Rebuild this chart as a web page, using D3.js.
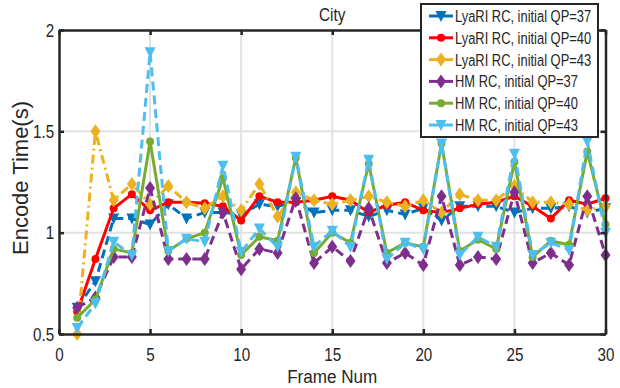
<!DOCTYPE html>
<html>
<head>
<meta charset="utf-8">
<script src="https://cdn.jsdelivr.net/npm/d3@7"></script>
<style>
  body { margin: 0; background: #fff; }
  svg text { font-family: "Liberation Sans", Arial, sans-serif; fill: #262626; }
</style>
</head>
<body>
<div id="chart"></div>
<script>
const frames = d3.range(1, 31);

const lyari37 = [0.63, 0.76, 1.07, 1.07, 1.04, 1.14, 1.07, 1.10, 1.10, 1.09, 1.14, 1.13, 1.15, 1.10, 1.11, 1.11, 1.08, 1.11, 1.09, 1.12, 1.06, 1.13, 1.13, 1.13, 1.10, 1.12, 1.12, 1.13, 1.10, 1.12];
const lyari40 = [0.61, 0.87, 1.12, 1.19, 1.11, 1.15, 1.15, 1.145, 1.13, 1.06, 1.18, 1.15, 1.15, 1.16, 1.18, 1.16, 1.10, 1.135, 1.15, 1.11, 1.10, 1.12, 1.14, 1.15, 1.18, 1.13, 1.07, 1.16, 1.14, 1.17];
const lyari43 = [0.50, 1.50, 1.16, 1.24, 1.14, 1.23, 1.15, 1.12, 1.18, 1.11, 1.24, 1.08, 1.20, 1.16, 1.14, 1.16, 1.18, 1.15, 1.13, 1.16, 1.10, 1.19, 1.16, 1.16, 1.23, 1.15, 1.15, 1.14, 1.11, 1.13];
const hm37 = [0.63, 0.68, 0.88, 0.88, 1.22, 0.87, 0.87, 0.87, 1.10, 0.82, 0.92, 0.90, 1.17, 0.85, 0.93, 0.86, 1.12, 0.85, 0.90, 0.84, 1.18, 0.84, 0.88, 0.87, 1.20, 0.85, 0.90, 0.84, 1.18, 0.89];
const hm40 = [0.58, 0.67, 0.92, 0.90, 1.45, 0.91, 0.97, 1.00, 1.27, 0.89, 0.98, 0.96, 1.37, 0.90, 1.00, 0.95, 1.34, 0.90, 0.95, 0.93, 1.44, 0.91, 0.965, 0.92, 1.35, 0.88, 0.96, 0.94, 1.40, 1.04];
const hm43 = [0.53, 0.65, 0.955, 0.89, 1.89, 0.91, 0.97, 0.955, 1.33, 0.905, 1.02, 0.93, 1.375, 0.93, 1.01, 0.93, 1.36, 0.87, 0.95, 0.92, 1.44, 0.89, 0.98, 0.93, 1.39, 0.89, 0.95, 0.915, 1.45, 1.00];

const seriesNames = ["LyaRI RC, initial QP=37", "LyaRI RC, initial QP=40", "LyaRI RC, initial QP=43",
                     "HM RC, initial QP=37", "HM RC, initial QP=40", "HM RC, initial QP=43"];
const seriesValues = [lyari37, lyari40, lyari43, hm37, hm40, hm43];
const seriesColors = ["#0072BD", "#FF0000", "#EDB120", "#7E2F8E", "#77AC30", "#4DBEEE"];
const seriesDash = ["9,5", null, "9,4,2,4", "9,5", null, "9,5"];
const seriesMarker = ["tri", "circle", "diamond", "diamond", "circle", "tri"];

const xTicks = [0, 5, 10, 15, 20, 25, 30];
const yTicks = [0.5, 1, 1.5, 2];

const width = 620, height = 388;
const svg = d3.select("#chart").append("svg").attr("width", width).attr("height", height);

const x = d3.scaleLinear().domain([0, 30]).range([59, 605.5]);
const y = d3.scaleLinear().domain([0.5, 2]).range([334, 30]);

// the reference uses a condensed face, so squeeze horizontal text
function squeezedText(parent, px, py, str, size, sx, anchor) {
    return parent.append("text")
        .attr("transform", "translate(" + px + "," + py + ") scale(" + sx + ",1)")
        .attr("text-anchor", anchor || "start")
        .style("font-size", size + "px")
        .text(str);
}

// grid
svg.append("g").selectAll("line").data(xTicks.slice(1, -1)).join("line")
    .attr("x1", d => x(d)).attr("x2", d => x(d)).attr("y1", y(0.5)).attr("y2", y(2))
    .attr("stroke", "#e2e2e2").attr("stroke-width", 2);
svg.append("g").selectAll("line").data(yTicks.slice(1, -1)).join("line")
    .attr("x1", x(0)).attr("x2", x(30)).attr("y1", d => y(d)).attr("y2", d => y(d))
    .attr("stroke", "#e2e2e2").attr("stroke-width", 2);

function markerPath(type) {
    if (type === "tri") return "M-5.5,-5L5.5,-5L0,6Z";
    if (type === "diamond") return "M0,-7L5,0L0,7L-5,0Z";
    return d3.symbol(d3.symbolCircle, 50)();
}

const line = d3.line().x((d, i) => x(frames[i])).y(d => y(d));

seriesValues.forEach((vals, s) => {
    const g = svg.append("g");
    g.append("path")
        .datum(vals)
        .attr("d", line)
        .attr("fill", "none")
        .attr("stroke", seriesColors[s])
        .attr("stroke-width", 3)
        .attr("stroke-dasharray", seriesDash[s]);
    g.selectAll("path.m").data(vals).join("path")
        .attr("class", "m")
        .attr("transform", (d, i) => "translate(" + x(frames[i]) + "," + y(d) + ")")
        .attr("d", markerPath(seriesMarker[s]))
        .attr("fill", seriesColors[s]);
});

// axes (box with inward ticks)
const axisColor = "#262626";
const axBottom = svg.append("g").attr("transform", "translate(0," + y(0.5) + ")")
    .call(d3.axisBottom(x).tickValues(xTicks).tickSizeInner(-5).tickSizeOuter(0).tickPadding(14));
const axLeft = svg.append("g").attr("transform", "translate(" + x(0) + ",0)")
    .call(d3.axisLeft(y).tickValues(yTicks).tickFormat(d3.format("")).tickSizeInner(-5).tickSizeOuter(0).tickPadding(6));
const axTop = svg.append("g").attr("transform", "translate(0," + y(2) + ")")
    .call(d3.axisTop(x).tickValues(xTicks).tickSizeInner(-5).tickSizeOuter(0).tickFormat(""));
const axRight = svg.append("g").attr("transform", "translate(" + x(30) + ",0)")
    .call(d3.axisRight(y).tickValues(yTicks).tickSizeInner(-5).tickSizeOuter(0).tickFormat(""));
[axBottom, axLeft, axTop, axRight].forEach(a => {
    a.selectAll("path, line").attr("stroke", axisColor).attr("stroke-width", 2.5);
    a.selectAll("text").style("font-size", "19px").attr("fill", axisColor)
        .attr("transform", "scale(0.8,1)");
});

// title and axis labels
squeezedText(svg, (x(0) + x(30)) / 2, 21, "City", 18, 0.85, "middle");
squeezedText(svg, (x(0) + x(30)) / 2, 383, "Frame Num", 19, 0.9, "middle");

svg.append("text")
    .attr("transform", "translate(28," + ((y(0.5) + y(2)) / 2 - 4) + ") rotate(-90)")
    .attr("text-anchor", "middle")
    .style("font-size", "22px")
    .text("Encode Time(s)");

// legend
const legend = svg.append("g");
legend.append("rect")
    .attr("x", 421).attr("y", 4).attr("width", 177).attr("height", 133)
    .attr("fill", "#fff").attr("stroke", axisColor).attr("stroke-width", 2);
seriesNames.forEach((name, s) => {
    const cy = 16 + s * 21.8;
    legend.append("line")
        .attr("x1", 429).attr("x2", 453).attr("y1", cy).attr("y2", cy)
        .attr("stroke", seriesColors[s]).attr("stroke-width", 3);
    legend.append("path")
        .attr("transform", "translate(441," + cy + ")")
        .attr("d", markerPath(seriesMarker[s]))
        .attr("fill", seriesColors[s]);
    squeezedText(legend, 455, cy + 6, name, 17, 0.76);
});
</script>
</body>
</html>
